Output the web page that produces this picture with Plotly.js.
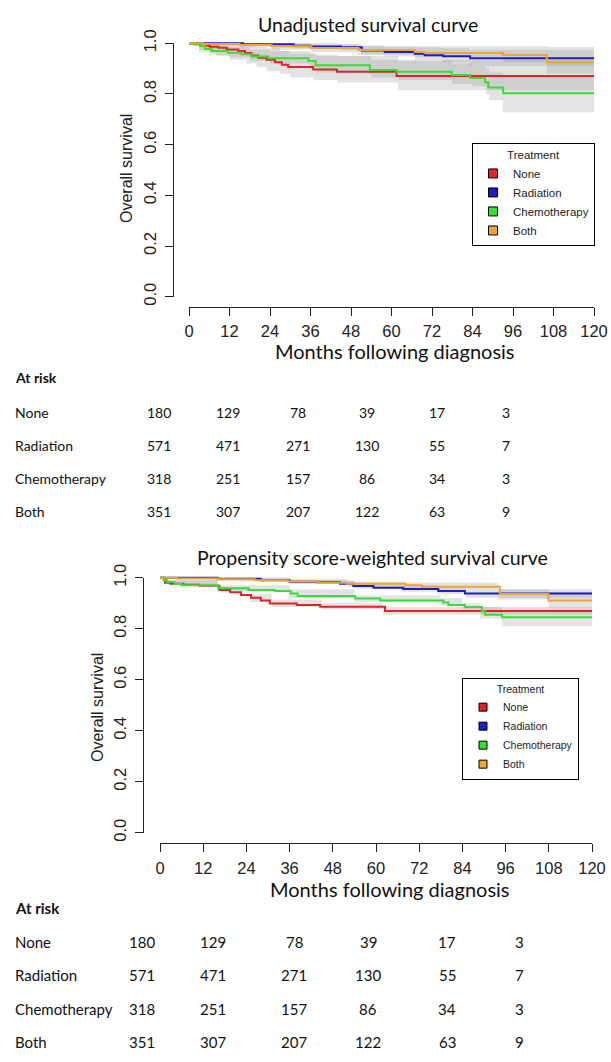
<!DOCTYPE html>
<html><head><meta charset="utf-8">
<script src="https://cdn.plot.ly/plotly-3.0.1.min.js"></script>
<style>html,body{margin:0;padding:0;background:#fff;}#chart{width:611px;height:1062px;}</style>
</head><body><div id="chart"></div>
<script>
const W = 611, H = 1062;
const groups = ['None', 'Radiation', 'Chemotherapy', 'Both'];
const colors = ['#e02424', '#1c1cc8', '#33e033', '#eea536'];
const monthTicks = [0, 12, 24, 36, 48, 60, 72, 84, 96, 108, 120];
const survTicks = [0, 0.2, 0.4, 0.6, 0.8, 1.0];
const survTickText = ['0.0', '0.2', '0.4', '0.6', '0.8', '1.0'];
const maxMonth = 120;

// ---- Unadjusted Kaplan-Meier (step times, survival) ----
const unNoneT = [0, 3.3, 6.2, 8.7, 11.2, 14.6, 16.6, 18.5, 20.5, 23, 25.5, 27.5, 29.4, 36.8, 43.8, 61.5];
const unNoneS = [1, 0.99, 0.986, 0.982, 0.976, 0.97, 0.962, 0.952, 0.943, 0.935, 0.925, 0.915, 0.906, 0.897, 0.888, 0.871];
const unRadT = [0, 16, 31, 36, 45, 51.2, 58, 66.9, 69.8, 75.3, 83.3];
const unRadS = [1, 0.996, 0.99, 0.987, 0.984, 0.972, 0.966, 0.959, 0.953, 0.949, 0.941];
const unChemoT = [0, 1.5, 3.3, 4.7, 6.7, 11.6, 15.6, 18.6, 23.5, 35.4, 37.5, 53.6, 61.5, 77.8, 83.3, 87.7, 88.7, 93.1];
const unChemoS = [1, 0.995, 0.99, 0.977, 0.97, 0.963, 0.957, 0.948, 0.941, 0.93, 0.913, 0.895, 0.888, 0.875, 0.863, 0.846, 0.826, 0.803];
const unBothT = [0, 4, 15, 24.5, 36.3, 50.2, 66.9, 69.8, 93.1, 106];
const unBothS = [1, 0.997, 0.993, 0.988, 0.981, 0.974, 0.966, 0.962, 0.954, 0.925];

// confidence bands (unadjusted)
const unNoneCiT = [0, 3, 8, 12, 17, 20, 23, 27, 30, 37, 44, 62];
const unNoneLo = [1, 0.965, 0.95, 0.935, 0.92, 0.905, 0.89, 0.88, 0.865, 0.855, 0.845, 0.815];
const unNoneHi = [1, 1, 0.998, 0.995, 0.99, 0.985, 0.98, 0.97, 0.96, 0.955, 0.95, 0.935];
const unRadCiT = [0, 16, 31, 45, 51, 58, 67, 75, 83];
const unRadLo = [1, 0.99, 0.98, 0.972, 0.955, 0.948, 0.935, 0.925, 0.91];
const unRadHi = [1, 1, 1, 0.997, 0.99, 0.985, 0.983, 0.98, 0.975];
const unChemoCiT = [0, 3, 6, 12, 18, 24, 36, 38, 54, 62, 78, 84, 88, 89, 93];
const unChemoLo = [1, 0.975, 0.955, 0.945, 0.93, 0.92, 0.905, 0.885, 0.865, 0.855, 0.84, 0.83, 0.8, 0.775, 0.728];
const unChemoHi = [1, 1, 0.99, 0.985, 0.975, 0.97, 0.96, 0.95, 0.935, 0.93, 0.92, 0.91, 0.9, 0.885, 0.875];
const unBothCiT = [0, 15, 24.5, 36, 50, 67, 93, 106];
const unBothLo = [1, 0.985, 0.975, 0.965, 0.955, 0.945, 0.925, 0.88];
const unBothHi = [1, 1, 1, 0.995, 0.99, 0.988, 0.988, 0.985];

// ---- Propensity score-weighted ----
const adNoneT = [0, 1.4, 3, 6.5, 11, 16.5, 19.5, 22.5, 25.3, 28, 30.5, 38, 44.5, 62.5];
const adNoneS = [1, 0.98, 0.976, 0.972, 0.968, 0.952, 0.943, 0.932, 0.921, 0.911, 0.899, 0.893, 0.886, 0.869];
const adRadT = [0, 16, 28, 36, 44, 50, 53.7, 59.3, 67.6, 77.3, 84.7];
const adRadS = [1, 0.996, 0.99, 0.984, 0.982, 0.976, 0.967, 0.961, 0.956, 0.948, 0.938];
const adChemoT = [0, 1, 2, 4, 6, 16.2, 24.6, 32, 36.3, 38.2, 54.2, 61.2, 78.7, 80.1, 84.7, 89.4, 90.3, 95];
const adChemoS = [1, 0.99, 0.983, 0.975, 0.97, 0.959, 0.952, 0.948, 0.938, 0.928, 0.918, 0.911, 0.903, 0.893, 0.885, 0.868, 0.855, 0.845];
const adBothT = [0, 4.6, 16, 26.4, 35.6, 44, 51.9, 68.2, 72.8, 94.4, 107.9];
const adBothS = [1, 0.997, 0.994, 0.99, 0.985, 0.98, 0.976, 0.97, 0.965, 0.936, 0.911];

const adNoneCiT = [0, 2, 16, 25, 31, 45, 62];
const adNoneLo = [1, 0.97, 0.945, 0.905, 0.885, 0.875, 0.855];
const adNoneHi = [1, 0.99, 0.965, 0.935, 0.915, 0.9, 0.885];
const adRadCiT = [0, 16, 36, 54, 67, 77, 85];
const adRadLo = [1, 0.99, 0.978, 0.957, 0.945, 0.935, 0.92];
const adRadHi = [1, 1, 0.99, 0.977, 0.97, 0.962, 0.955];
const adChemoCiT = [0, 2, 16, 36, 54, 78, 84, 89, 95];
const adChemoLo = [1, 0.975, 0.95, 0.92, 0.905, 0.89, 0.875, 0.84, 0.81];
const adChemoHi = [1, 0.99, 0.97, 0.955, 0.93, 0.92, 0.9, 0.885, 0.875];
const adBothCiT = [0, 16, 36, 52, 68, 94, 108];
const adBothLo = [1, 0.988, 0.975, 0.965, 0.955, 0.915, 0.88];
const adBothHi = [1, 1, 0.995, 0.985, 0.98, 0.955, 0.945];

// ---- Number at risk ----
const riskMonths = [0, 24, 48, 72, 96, 120];
const atRiskNone = [180, 129, 78, 39, 17, 3];
const atRiskRadiation = [571, 471, 271, 130, 55, 7];
const atRiskChemotherapy = [318, 251, 157, 86, 34, 3];
const atRiskBoth = [351, 307, 207, 122, 63, 9];

// ---------------- build ----------------
const px = v => v / W;
const py = v => 1 - v / H;
function ext(t, s) { return { x: t.concat([maxMonth]), y: s.concat([s[s.length - 1]]) }; }

const traces = [];
function addPanel(xa, ya, curves, bands) {
  bands.forEach(b => {
    const lo = ext(b.t, b.lo), hi = ext(b.t, b.hi);
    traces.push({ x: lo.x, y: lo.y, xaxis: xa, yaxis: ya, mode: 'lines', line: { width: 0, shape: 'hv' }, showlegend: false, hoverinfo: 'skip' });
    traces.push({ x: hi.x, y: hi.y, xaxis: xa, yaxis: ya, mode: 'lines', line: { width: 0, shape: 'hv' }, fill: 'tonexty', fillcolor: 'rgba(150,150,150,0.27)', showlegend: false, hoverinfo: 'skip' });
  });
  curves.forEach((c, i) => {
    const d = ext(c.t, c.s);
    traces.push({ x: d.x, y: d.y, xaxis: xa, yaxis: ya, mode: 'lines', name: groups[i], line: { color: colors[i], width: 2, shape: 'hv' }, showlegend: false });
  });
}
addPanel('x', 'y',
  [{ t: unNoneT, s: unNoneS }, { t: unRadT, s: unRadS }, { t: unChemoT, s: unChemoS }, { t: unBothT, s: unBothS }],
  [{ t: unNoneCiT, lo: unNoneLo, hi: unNoneHi }, { t: unRadCiT, lo: unRadLo, hi: unRadHi }, { t: unChemoCiT, lo: unChemoLo, hi: unChemoHi }, { t: unBothCiT, lo: unBothLo, hi: unBothHi }]);
addPanel('x2', 'y2',
  [{ t: adNoneT, s: adNoneS }, { t: adRadT, s: adRadS }, { t: adChemoT, s: adChemoS }, { t: adBothT, s: adBothS }],
  [{ t: adNoneCiT, lo: adNoneLo, hi: adNoneHi }, { t: adRadCiT, lo: adRadLo, hi: adRadHi }, { t: adChemoCiT, lo: adChemoLo, hi: adChemoHi }, { t: adBothCiT, lo: adBothLo, hi: adBothHi }]);

// legend entries (square swatches)
groups.forEach((g, i) => {
  traces.push({ x: [null], y: [null], xaxis: 'x', yaxis: 'y', mode: 'markers', name: g, legend: 'legend',
    marker: { symbol: 'square', size: 9, color: colors[i], line: { color: '#000', width: 1 } } });
  traces.push({ x: [null], y: [null], xaxis: 'x2', yaxis: 'y2', mode: 'markers', name: g, legend: 'legend2',
    marker: { symbol: 'square', size: 8, color: colors[i], line: { color: '#000', width: 1 } } });
});
// empty traces to create the tick-axis subplots
traces.push({ x: [null], y: [null], xaxis: 'x3', yaxis: 'y3', mode: 'markers', showlegend: false, hoverinfo: 'skip' });
traces.push({ x: [null], y: [null], xaxis: 'x4', yaxis: 'y4', mode: 'markers', showlegend: false, hoverinfo: 'skip' });

const tickFont = { family: 'Liberation Sans, Arial, sans-serif', size: 16.5, color: '#222' };
const hidden = { visible: false, showgrid: false, zeroline: false, fixedrange: true };

// panel geometry (pixels)
const P1 = { x0: 189, x1: 594, y1: 43.3, y0: 296.7 };
const P2 = { x0: 160, x1: 592, y1: 577.7, y0: 832.7 };
function padX(p) { const k = (p.x1 - p.x0) / 120; return [px(p.x0 - 4.8 * k), px(p.x1 + 4.8 * k)]; }
function padY(p) { const k = (p.y0 - p.y1); return [py(p.y0 + 0.04 * k), py(p.y1 - 0.04 * k)]; }

function tickX(p, stand) {
  return { domain: [px(p.x0), px(p.x1)], range: [0, 120], anchor: 'free', position: padY(p)[0],
    tickvals: monthTicks, ticks: 'outside', ticklen: 8, tickcolor: '#222', showline: true, linecolor: '#222', linewidth: 1,
    showgrid: false, zeroline: false, tickfont: tickFont, ticklabelstandoff: stand, fixedrange: true };
}
function tickY(p, stand) {
  return { domain: [py(p.y0), py(p.y1)], range: [0, 1], anchor: 'free', position: padX(p)[0],
    tickvals: survTicks, ticktext: survTickText, tickangle: -90, ticks: 'outside', ticklen: 8, tickcolor: '#222',
    showline: true, linecolor: '#222', linewidth: 1, showgrid: false, zeroline: false, tickfont: tickFont, ticklabelstandoff: stand, fixedrange: true };
}

const legFont = s => ({ family: 'Liberation Sans, Arial, sans-serif', size: s, color: '#222' });
const layout = {
  width: W, height: H, margin: { l: 0, r: 0, t: 0, b: 0 },
  paper_bgcolor: '#fff', plot_bgcolor: 'rgba(0,0,0,0)',
  xaxis: Object.assign({ domain: padX(P1), range: [-4.8, 124.8] }, hidden),
  yaxis: Object.assign({ domain: padY(P1), range: [-0.04, 1.04] }, hidden),
  xaxis2: Object.assign({ domain: padX(P2), range: [-4.8, 124.8], anchor: 'y2' }, hidden),
  yaxis2: Object.assign({ domain: padY(P2), range: [-0.04, 1.04], anchor: 'x2' }, hidden),
  xaxis3: tickX(P1, 1), yaxis3: tickY(P1, 2),
  xaxis4: tickX(P2, 2), yaxis4: tickY(P2, 2),
  showlegend: true,
  legend: { x: px(472), y: py(143), xanchor: 'left', yanchor: 'top', bgcolor: '#fff', bordercolor: '#000', borderwidth: 1,
    traceorder: 'normal', font: legFont(11.5), tracegroupgap: 0,
    title: { text: 'Treatment', side: 'top center', font: legFont(11.5) } },
  legend2: { x: px(462), y: py(678), xanchor: 'left', yanchor: 'top', bgcolor: '#fff', bordercolor: '#000', borderwidth: 1,
    traceorder: 'normal', font: legFont(10.5), tracegroupgap: 0,
    title: { text: 'Treatment', side: 'top center', font: legFont(10.5) } },
  annotations: []
};

const ann = layout.annotations;
const titleFont = s => ({ family: 'Lato, Carlito, sans-serif', size: s, color: '#111' });
function label(text, x, y, font, opts) {
  ann.push(Object.assign({ text: text, x: px(x), y: py(y), xref: 'paper', yref: 'paper', showarrow: false,
    xanchor: 'center', yanchor: 'middle', font: font }, opts || {}));
}
label('Unadjusted survival curve', 368, 24, titleFont(19.5));
label('Months following diagnosis', 395, 351, titleFont(20));
label('Overall survival', 127, 168, legFont(16), { textangle: -90 });
label('Propensity score-weighted survival curve', 372, 557, titleFont(19.5));
label('Months following diagnosis', 390, 889, titleFont(20));
label('Overall survival', 97, 708, legFont(16), { textangle: -90 });

// at-risk tables
const riskRows = [atRiskNone, atRiskRadiation, atRiskChemotherapy, atRiskBoth];
function table(headY, rowYs, colXs, size) {
  const f = { family: 'Lato, Carlito, sans-serif', size: size, color: '#111' };
  label('<b>At risk</b>', 13, headY, f, { xanchor: 'left' });
  riskRows.forEach((row, r) => {
    label(groups[r], 13, rowYs[r], f, { xanchor: 'left' });
    row.forEach((v, c) => label(String(v), colXs[c], rowYs[r], f));
  });
}
table(378, [412, 445, 479, 512], [159, 228, 298, 367, 437, 506], 14);
table(908, [942, 975, 1009, 1042], [142, 213, 294, 368, 447, 519], 15);

Plotly.newPlot('chart', traces, layout, { displayModeBar: false, staticPlot: true });
</script></body></html>
